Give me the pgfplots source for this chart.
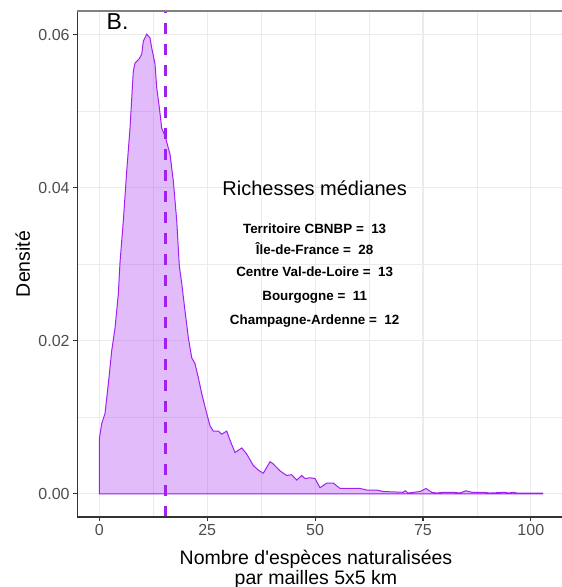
\documentclass[border=0pt]{standalone}
\usepackage{fontspec}
\setmainfont{Liberation Sans}
\usepackage{pgfplots}
\pgfplotsset{compat=1.18}
\definecolor{rpurple}{HTML}{A020F0}
\definecolor{gridgrey}{HTML}{EBEBEB}
\definecolor{tickgrey}{HTML}{4D4D4D}
\definecolor{axisgrey}{HTML}{333333}

\begin{document}
\begin{tikzpicture}
\useasboundingbox (-77.1pt,-70pt) rectangle (484.9pt,517pt);
\begin{axis}[
  at={(0,0)}, anchor=south west,
  scale only axis, width=484.8pt, height=506pt,
  xmin=-5.15, xmax=107.2, ymin=-0.00303, ymax=0.06313,
  axis line style={draw=none},
  xtick={0,25,50,75,100}, ytick={0,0.02,0.04,0.06},
  minor x tick num=1, minor y tick num=1,
  grid=both,
  major grid style={gridgrey, line width=1.1pt},
  minor grid style={gridgrey, line width=0.55pt},
  tick align=outside, tick pos=left,
  major tick length=4pt, minor tick length=0pt,
  major tick style={axisgrey, line width=1.1pt},
  ticklabel style={font=\fontsize{16}{19}\selectfont, text=tickgrey},
  /pgf/number format/assume math mode=true,
  yticklabel style={/pgf/number format/fixed, /pgf/number format/fixed zerofill, /pgf/number format/precision=2},
  scaled y ticks=false,
  clip mode=individual,
]
% densite du nombre d'especes par maille
\addplot[draw=rpurple, line width=1pt, fill=rpurple, fill opacity=0.3] coordinates {
(0,0) (0,0.0072) (0.56,0.0092) (1.32,0.0105) (2.09,0.0144) (2.87,0.0187) (3.64,0.0217)
(4.40,0.0261) (4.80,0.0303) (5.56,0.0357) (6.35,0.0422) (7.11,0.0478) (7.88,0.0553)
(8.27,0.0563) (9.27,0.0569) (9.83,0.0575) (10.20,0.0592) (10.98,0.0601) (11.75,0.0596)
(12.14,0.0583) (12.91,0.0562) (13.30,0.0531) (13.91,0.0505) (14.46,0.0478) (15.23,0.0468)
(16.38,0.0444) (17.15,0.0409) (17.94,0.0357) (18.54,0.0298) (19.10,0.0275) (19.86,0.0239)
(20.63,0.0204) (21.41,0.0178) (22.18,0.0170) (22.94,0.0152) (23.73,0.0131) (24.89,0.0105)
(25.65,0.0089) (26.42,0.0082) (27.58,0.0082) (28.37,0.0078) (29.52,0.0082) (30.29,0.0070)
(31.45,0.0054) (33.00,0.0060) (34.16,0.0052) (35.69,0.0037) (36.85,0.0031) (38.01,0.0027)
(39.56,0.0042) (40.32,0.0039) (41.88,0.0030) (43.43,0.0024) (44.59,0.0025) (45.75,0.0018)
(46.91,0.0024) (47.67,0.0020) (48.83,0.0021) (49.99,0.0020) (51.15,0.0008) (52.70,0.0014)
(54.23,0.0014) (55.78,0.0007) (60.42,0.0007) (61.97,0.0005) (64.29,0.0005) (65.82,0.0003)
(70.45,0.0002) (70.85,0.0004) (71.61,0.0001) (74.32,0.0003) (75.71,0.0007) (77.03,0.0002)
(78.19,0.0001) (79.72,0.0002) (82.04,0.0002) (83.59,0.0001) (84.98,0.0004) (86.30,0.0002)
(88.99,0.0002) (90.55,0.0001) (94.02,0.0002) (94.79,0.0001) (95.94,0.0002) (96.73,0.0001)
(102.76,0.0001) (102.76,0)
} -- cycle;
% mediane
\addplot[rpurple, line width=2.8pt, dash pattern=on 11pt off 10pt] coordinates {(15.4,-0.00303) (15.4,0.06313)};

\draw[axisgrey, line width=1.1pt] (rel axis cs:0,1) -- (rel axis cs:0,0) -- (rel axis cs:1,0);
\draw[gray, line width=1.1pt] (rel axis cs:0,1) -- (rel axis cs:1,1);

\node[anchor=base west, font=\fontsize{23}{27}\selectfont] at (axis cs:0.9,0.06075) {B.};
\node[anchor=base, font=\fontsize{20}{24}\selectfont] at (axis cs:49.9,0.03895) {Richesses médianes};
\begin{scope}[every node/.style={anchor=base, font=\fontsize{13.4}{16}\selectfont\bfseries}]
\node at (axis cs:49.9,0.03403) {Territoire CBNBP =~~13};
\node at (axis cs:49.9,0.03133) {Île-de-France =~~28};
\node at (axis cs:49.9,0.02837) {Centre Val-de-Loire =~~13};
\node at (axis cs:49.9,0.02523) {Bourgogne =~~11};
\node at (axis cs:49.9,0.02218) {Champagne-Ardenne =~~12};
\end{scope}
\end{axis}
\node[anchor=base, rotate=90, font=\fontsize{19.5}{23}\selectfont] at (-47.1pt,253pt) {Densité};
\node[anchor=base, font=\fontsize{19.5}{23}\selectfont] at (238.9pt,-47pt) {Nombre d\textquotesingle espèces naturalisées};
\node[anchor=base, font=\fontsize{19.5}{23}\selectfont] at (238.9pt,-67pt) {par mailles 5x5 km};
\end{tikzpicture}
\end{document}
